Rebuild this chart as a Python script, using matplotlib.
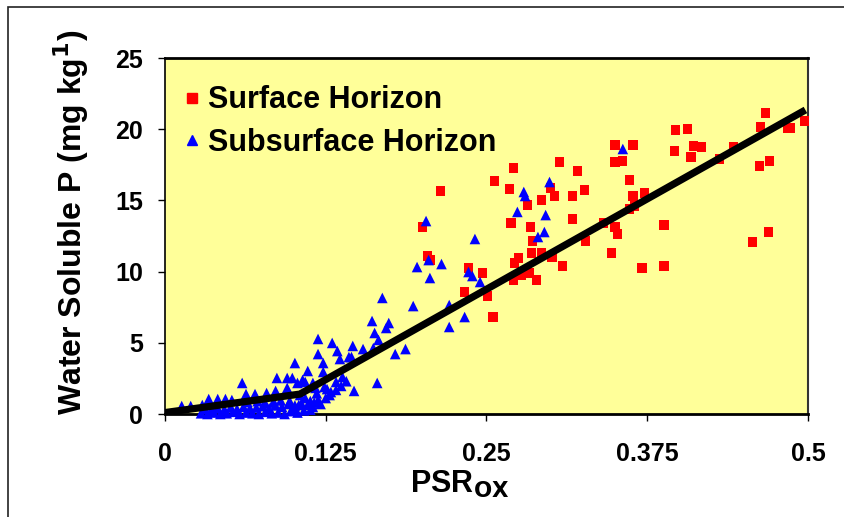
import matplotlib
matplotlib.use("Agg")
import matplotlib.pyplot as plt
from matplotlib.patches import Rectangle
from matplotlib.lines import Line2D

plt.rcParams['font.family'] = ['Liberation Sans', 'DejaVu Sans']
plt.rcParams['font.weight'] = 'bold'

# Surface horizon (red squares)
surf_x = [0.200, 0.204, 0.206, 0.214, 0.233, 0.236, 0.247, 0.251, 0.255, 0.256,
          0.268, 0.269, 0.271, 0.271, 0.272, 0.275, 0.277, 0.282, 0.283, 0.284,
          0.285, 0.286, 0.289, 0.293, 0.293, 0.300, 0.301, 0.303, 0.307, 0.309,
          0.317, 0.317, 0.321, 0.326, 0.327, 0.341, 0.347, 0.350, 0.350, 0.352,
          0.350, 0.356, 0.361, 0.361, 0.364, 0.364, 0.365, 0.371, 0.373, 0.388,
          0.388, 0.396, 0.397, 0.406, 0.409, 0.411, 0.417, 0.431, 0.442, 0.457,
          0.462, 0.463, 0.467, 0.469, 0.470, 0.484, 0.486, 0.497]
surf_y = [13.13, 11.10, 10.81, 15.66, 8.57, 10.25, 9.90, 8.29, 6.81, 16.36,
          15.80, 13.41, 17.28, 9.41, 10.60, 10.96, 9.76, 14.68, 9.90, 13.13,
          11.31, 12.15, 9.41, 15.03, 11.31, 15.87, 11.03, 15.31, 17.70, 10.39,
          15.31, 13.69, 17.06, 15.73, 12.15, 13.41, 11.31, 18.89, 17.70, 12.64,
          13.13, 17.77, 16.43, 14.40, 15.31, 18.89, 14.61, 10.25, 15.52, 13.27,
          10.39, 18.47, 19.94, 20.01, 18.05, 18.82, 18.75, 17.91, 18.75, 12.08,
          17.42, 20.15, 21.14, 12.78, 17.77, 20.08, 20.08, 20.58]

# Subsurface horizon (blue triangles)
sub_x = [0.356, 0.299, 0.279, 0.280, 0.274, 0.296, 0.295, 0.290, 0.203, 0.241,
         0.205, 0.196, 0.206, 0.215, 0.236, 0.239, 0.245, 0.169, 0.193, 0.221,
         0.233, 0.221, 0.161, 0.174, 0.172, 0.163, 0.166, 0.119, 0.130, 0.146,
         0.154, 0.162, 0.119, 0.123, 0.134, 0.136, 0.143, 0.145, 0.179, 0.187,
         0.101, 0.111, 0.123, 0.165, 0.147, 0.087, 0.095, 0.099, 0.107, 0.109,
         0.060, 0.115, 0.117, 0.124, 0.128, 0.133, 0.137, 0.103, 0.063, 0.070,
         0.079, 0.086, 0.095, 0.034, 0.041, 0.047, 0.052, 0.013, 0.020, 0.029,
         0.105, 0.109, 0.113, 0.119, 0.121, 0.125, 0.104, 0.099, 0.115, 0.129,
         0.133, 0.138, 0.141, 0.118, 0.126,
         0.028, 0.033, 0.038, 0.043, 0.048, 0.053, 0.058, 0.063, 0.068, 0.073,
         0.078, 0.083, 0.088, 0.093, 0.098, 0.103, 0.108, 0.113,
         0.031, 0.036, 0.041, 0.046, 0.051, 0.056, 0.061, 0.066, 0.071, 0.076,
         0.081, 0.086, 0.091, 0.096, 0.101, 0.106, 0.111, 0.116,
         0.064, 0.072, 0.084, 0.090, 0.078, 0.097]
sub_y = [18.61, 16.29, 15.59, 15.31, 14.19, 13.97, 12.78, 12.43, 13.55, 12.29,
         10.81, 10.32, 9.55, 10.53, 9.97, 9.69, 9.27, 8.15, 7.58, 7.65,
         6.81, 6.11, 6.53, 6.39, 6.04, 5.69, 5.20, 5.27, 4.99, 4.78,
         4.56, 4.63, 4.21, 3.58, 4.42, 3.86, 4.00, 4.00, 4.21, 4.56,
         3.58, 3.02, 2.95, 2.18, 1.62, 2.53, 2.53, 2.53, 2.39, 2.25,
         2.18, 2.18, 1.83, 1.90, 1.33, 2.25, 1.97, 2.18, 1.40, 1.40,
         1.47, 1.62, 1.83, 1.05, 1.05, 1.05, 0.98, 0.56, 0.56, 0.63,
         1.33, 1.12, 0.91, 0.98, 0.70, 1.12, 0.63, 0.42, 0.49, 1.54,
         1.69, 2.60, 2.30, 1.45, 1.75,
         0.05, 0.00, 0.10, 0.00, 0.05, 0.15, 0.00, 0.10, 0.05, 0.00,
         0.15, 0.05, 0.10, 0.00, 0.20, 0.10, 0.25, 0.30,
         0.35, 0.30, 0.40, 0.30, 0.45, 0.35, 0.50, 0.40, 0.45, 0.55,
         0.40, 0.60, 0.50, 0.70, 0.60, 0.75, 0.65, 0.80,
         0.85, 0.90, 0.80, 0.95, 0.75, 0.90]

# Segmented fit line
fit_x = [0.0, 0.105, 0.498]
fit_y = [0.1, 1.4, 21.35]

x_ticks = [0, 0.125, 0.25, 0.375, 0.5]
x_tick_labels = ["0", "0.125", "0.25", "0.375", "0.5"]
y_ticks = [0, 5, 10, 15, 20, 25]

W, H = 845, 517
fig = plt.figure(figsize=(W / 100, H / 100), dpi=100)
ax = fig.add_axes([165 / W, 1 - 414 / H, (808 - 165) / W, (414 - 58) / H])
ax.set_facecolor('#FFFF99')

ax.scatter(surf_x, surf_y, marker='s', s=44, color='#FF0000', edgecolors='none',
           zorder=3, clip_on=False)
ax.scatter(sub_x, sub_y, marker='^', s=58, color='#0000FF', edgecolors='none',
           zorder=4, clip_on=False)
ax.plot(fit_x, fit_y, color='black', lw=5.2, solid_capstyle='butt', zorder=5)

ax.set_xlim(0, 0.5)
ax.set_ylim(0, 25)
ax.set_xticks(x_ticks)
ax.set_xticklabels(x_tick_labels)
ax.set_yticks(y_ticks)
ax.tick_params(axis='x', direction='out', length=5, width=1, pad=15, labelsize=18)
ax.tick_params(axis='y', direction='out', length=5, width=1, pad=11, labelsize=18)
for lab in ax.get_xticklabels() + ax.get_yticklabels():
    lab.set_fontweight('bold')

for side in ['left', 'bottom', 'top']:
    ax.spines[side].set_color('black')
ax.spines['left'].set_linewidth(1.2)
ax.spines['bottom'].set_linewidth(2.0)
ax.spines['top'].set_linewidth(2.0)
ax.spines['right'].set_linewidth(1.5)
ax.spines['right'].set_color('#333333')

ax.set_ylabel('Water Soluble P (mg kg$^{\\mathbf{1}}$)', fontsize=23, fontweight='bold')
ax.yaxis.set_label_coords(-74 / (808 - 165), (414 - 222) / (414 - 58))

fig.text(410 / W, 1 - 484 / H, 'PSR$_{\\mathbf{OX}}$', fontsize=22, fontweight='bold',
         ha='left', va='center')

handles = [
    Line2D([], [], marker='s', color='#FF0000', linestyle='none', markersize=6.5),
    Line2D([], [], marker='^', color='#0000FF', linestyle='none', markersize=7.5),
]
leg = ax.legend(handles, ['Surface Horizon', 'Subsurface Horizon'],
                loc='upper left', bbox_to_anchor=(0.0, 0.975), frameon=False,
                prop={'size': 22, 'weight': 'bold'}, handlelength=0.6,
                handletextpad=0.2, labelspacing=0.42, borderaxespad=0.2)

# outer chart border
fig.patches.append(Rectangle((8 / W, -0.1), 1.2, 1 - 7 / H + 0.1, transform=fig.transFigure,
                             fill=False, edgecolor='#222222', lw=1.2))

fig.savefig('out.png', dpi=100)
